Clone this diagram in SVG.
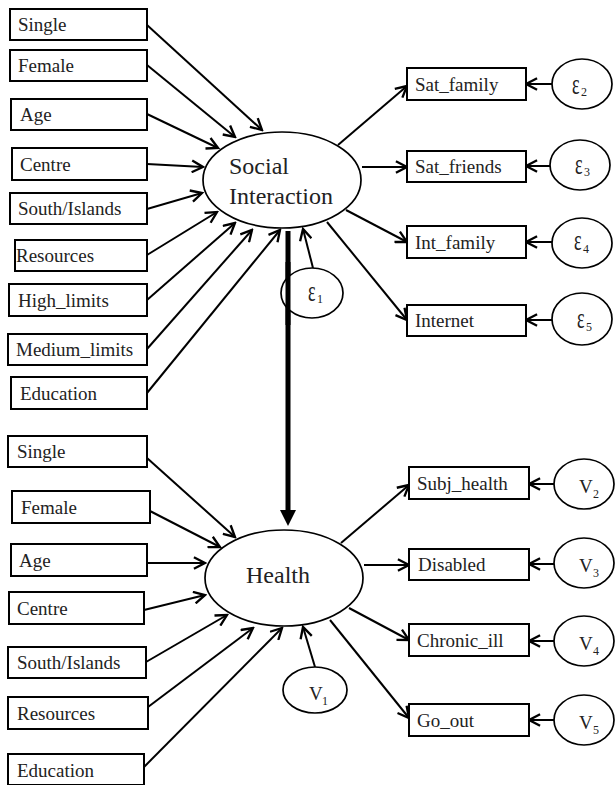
<svg xmlns="http://www.w3.org/2000/svg" width="616" height="785" viewBox="0 0 616 785" font-family="'Liberation Serif', 'Times New Roman', 'DejaVu Serif', serif">
<style>
  .box { fill: #fff; stroke: #000; stroke-width: 2; }
  .ell { fill: #fff; stroke: #000; stroke-width: 1.7; }
  text { font-family: 'Liberation Serif', 'Times New Roman', 'DejaVu Serif', serif; fill: #222; }
  .t { font-size: 19px; }
  .big { font-size: 24px; }
  .sym { font-size: 18px; }
  .sub { font-size: 12px; }
  .c line { stroke: #000; stroke-width: 2; marker-end: url(#ah); }
</style>
<defs>
  <marker id="ah" markerUnits="userSpaceOnUse" markerWidth="14" markerHeight="14" viewBox="0 0 12 12" refX="10.5" refY="6" orient="auto">
    <path d="M1,1 L10.5,6 L1,11" fill="none" stroke="#000" stroke-width="2"/>
  </marker>
</defs>
<rect width="616" height="785" fill="#fff"/>

<!-- connectors -->
<g id="connectors" class="c">
  <line x1="147" y1="25" x2="262" y2="130"/>
  <line x1="147" y1="65" x2="235" y2="137"/>
  <line x1="147" y1="114" x2="218" y2="148"/>
  <line x1="147" y1="164" x2="203" y2="167"/>
  <line x1="147" y1="209" x2="202" y2="193"/>
  <line x1="147" y1="255" x2="217" y2="212"/>
  <line x1="147" y1="300" x2="235" y2="223"/>
  <line x1="147" y1="349" x2="252" y2="230"/>
  <line x1="147" y1="393" x2="280" y2="230"/>
  <line x1="338" y1="145" x2="407" y2="86"/>
  <line x1="362" y1="167" x2="407" y2="167"/>
  <line x1="346" y1="210" x2="407" y2="242"/>
  <line x1="327" y1="222" x2="407" y2="320"/>
  <line x1="552" y1="84" x2="526" y2="84"/>
  <line x1="550" y1="166" x2="526" y2="166"/>
  <line x1="552" y1="242" x2="526" y2="242"/>
  <line x1="552" y1="320" x2="526" y2="320"/>
  <line x1="313" y1="268" x2="303" y2="229"/>
  <line x1="147" y1="458" x2="235" y2="537"/>
  <line x1="148" y1="510" x2="220" y2="547"/>
  <line x1="147" y1="563" x2="205" y2="563"/>
  <line x1="144" y1="610" x2="205" y2="595"/>
  <line x1="146" y1="662" x2="227" y2="615"/>
  <line x1="148" y1="707" x2="253" y2="628"/>
  <line x1="144" y1="767" x2="282" y2="628"/>
  <line x1="341" y1="543" x2="409" y2="485"/>
  <line x1="364" y1="565" x2="409" y2="565"/>
  <line x1="349" y1="608" x2="409" y2="640"/>
  <line x1="330" y1="620" x2="409" y2="718"/>
  <line x1="554" y1="484" x2="529" y2="484"/>
  <line x1="554" y1="564" x2="529" y2="564"/>
  <line x1="554" y1="641" x2="529" y2="641"/>
  <line x1="554" y1="720" x2="529" y2="720"/>
  <line x1="315" y1="667" x2="303" y2="627"/>
</g>

<!-- top left boxes -->
<g id="si_single"><rect class="box" x="10" y="9" width="137" height="31"/><text class="t" x="18" y="31">Single</text></g>
<g id="si_female"><rect class="box" x="10" y="50" width="137" height="31"/><text class="t" x="18" y="72">Female</text></g>
<g id="si_age"><rect class="box" x="11" y="99" width="136" height="31"/><text class="t" x="20" y="121">Age</text></g>
<g id="si_centre"><rect class="box" x="12" y="148" width="135" height="32"/><text class="t" x="20" y="171">Centre</text></g>
<g id="si_south"><rect class="box" x="10" y="193" width="137" height="31"/><text class="t" x="18" y="215">South/Islands</text></g>
<g id="si_resources"><rect class="box" x="15" y="240" width="132" height="31"/><text class="t" x="16" y="262">Resources</text></g>
<g id="si_high"><rect class="box" x="9" y="284" width="138" height="32"/><text class="t" x="18" y="307">High_limits</text></g>
<g id="si_medium"><rect class="box" x="8" y="334" width="139" height="31"/><text class="t" x="16" y="356">Medium_limits</text></g>
<g id="si_education"><rect class="box" x="11" y="377" width="136" height="32"/><text class="t" x="20" y="400">Education</text></g>

<!-- social interaction -->
<g id="social"><ellipse class="ell" cx="282" cy="180" rx="79" ry="48"/>
  <text class="big" x="229" y="174">Social</text><text class="big" x="229" y="204">Interaction</text></g>

<!-- thick arrow -->
<g id="si_to_health">
  <line x1="288" y1="231" x2="288" y2="512" stroke="#000" stroke-width="5"/>
  <polygon points="280,510 296,510 288,526" fill="#000"/>
</g>

<!-- e1 -->
<g id="e1"><ellipse class="ell" cx="312" cy="293" rx="31" ry="25"/>
  <line x1="288" y1="262" x2="288" y2="325" stroke="#000" stroke-width="5"/>
  <text class="sym" transform="translate(308,301) scale(1,1.6)">ε</text><text class="sub" x="317" y="303">1</text></g>

<!-- right top -->
<g id="sat_family"><rect class="box" x="407" y="68" width="119" height="32"/><text class="t" x="415" y="91">Sat_family</text></g>
<g id="sat_friends"><rect class="box" x="407" y="151" width="119" height="31"/><text class="t" x="415" y="173">Sat_friends</text></g>
<g id="int_family"><rect class="box" x="407" y="226" width="119" height="32"/><text class="t" x="415" y="249">Int_family</text></g>
<g id="internet"><rect class="box" x="407" y="305" width="119" height="31"/><text class="t" x="415" y="327">Internet</text></g>

<g id="e2"><ellipse class="ell" cx="582" cy="84" rx="30" ry="25"/><text class="sym" transform="translate(572,94) scale(1,1.6)">ε</text><text class="sub" x="581" y="96">2</text></g>
<g id="e3"><ellipse class="ell" cx="580" cy="165" rx="30" ry="25"/><text class="sym" transform="translate(575,174) scale(1,1.6)">ε</text><text class="sub" x="584" y="176">3</text></g>
<g id="e4"><ellipse class="ell" cx="582" cy="243" rx="30" ry="25"/><text class="sym" transform="translate(574,250) scale(1,1.6)">ε</text><text class="sub" x="583" y="253">4</text></g>
<g id="e5"><ellipse class="ell" cx="582" cy="319" rx="30" ry="26"/><text class="sym" transform="translate(577,328) scale(1,1.6)">ε</text><text class="sub" x="586" y="331">5</text></g>

<!-- bottom left boxes -->
<g id="h_single"><rect class="box" x="8" y="436" width="139" height="31"/><text class="t" x="17" y="458">Single</text></g>
<g id="h_female"><rect class="box" x="12" y="491" width="138" height="32"/><text class="t" x="21" y="514">Female</text></g>
<g id="h_age"><rect class="box" x="11" y="544" width="136" height="32"/><text class="t" x="19" y="567">Age</text></g>
<g id="h_centre"><rect class="box" x="9" y="592" width="135" height="32"/><text class="t" x="17" y="615">Centre</text></g>
<g id="h_south"><rect class="box" x="8" y="647" width="138" height="31"/><text class="t" x="17" y="669">South/Islands</text></g>
<g id="h_resources"><rect class="box" x="8" y="697" width="140" height="32"/><text class="t" x="17" y="720">Resources</text></g>
<g id="h_education"><rect class="box" x="8" y="754" width="136" height="31"/><text class="t" x="17" y="777">Education</text></g>

<!-- health -->
<g id="health"><ellipse class="ell" cx="284" cy="578" rx="79" ry="48"/><text class="big" x="246" y="583">Health</text></g>

<g id="v1"><ellipse class="ell" cx="315" cy="690" rx="32" ry="23"/><text class="t" x="309" y="700">V</text><text class="sub" x="322" y="705">1</text></g>

<!-- right bottom -->
<g id="subj_health"><rect class="box" x="409" y="467" width="120" height="32"/><text class="t" x="417" y="490">Subj_health</text></g>
<g id="disabled"><rect class="box" x="409" y="549" width="120" height="31"/><text class="t" x="418" y="571">Disabled</text></g>
<g id="chronic_ill"><rect class="box" x="409" y="624" width="120" height="32"/><text class="t" x="417" y="647">Chronic_ill</text></g>
<g id="go_out"><rect class="box" x="409" y="704" width="120" height="32"/><text class="t" x="417" y="727">Go_out</text></g>

<g id="v2"><ellipse class="ell" cx="584" cy="484" rx="30" ry="25"/><text class="t" x="579" y="493">V</text><text class="sub" x="593" y="498">2</text></g>
<g id="v3"><ellipse class="ell" cx="584" cy="563" rx="30" ry="25"/><text class="t" x="579" y="572">V</text><text class="sub" x="593" y="577">3</text></g>
<g id="v4"><ellipse class="ell" cx="584" cy="641" rx="30" ry="25"/><text class="t" x="579" y="650">V</text><text class="sub" x="593" y="655">4</text></g>
<g id="v5"><ellipse class="ell" cx="584" cy="720" rx="30" ry="25"/><text class="t" x="579" y="729">V</text><text class="sub" x="593" y="734">5</text></g>
</svg>
